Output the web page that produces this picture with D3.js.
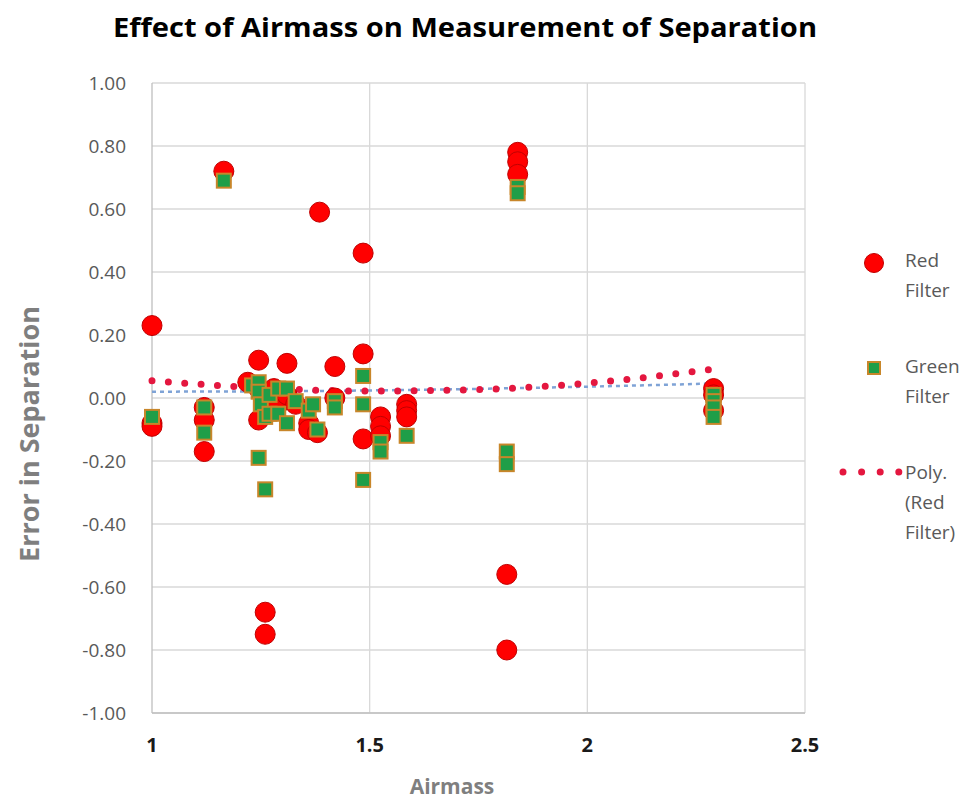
<!DOCTYPE html>
<html><head><meta charset="utf-8">
<script src="https://cdn.jsdelivr.net/npm/d3@7"></script>
<style>body{margin:0;background:#fff;} svg{display:block;}</style>
</head><body>
<svg id="chart" width="980" height="803"></svg>
<script>
const title = "Effect of Airmass on Measurement of Separation";
const xTitle = "Airmass";
const yTitle = "Error in Separation";
const xTicks = [1, 1.5, 2, 2.5];
const xTickLabels = ["1", "1.5", "2", "2.5"];
const yTicks = [1, 0.8, 0.6, 0.4, 0.2, 0, -0.2, -0.4, -0.6, -0.8, -1];
const yTickLabels = ["1.00","0.80","0.60","0.40","0.20","0.00","-0.20","-0.40","-0.60","-0.80","-1.00"];

const redAirmass = [1.00,1.00,1.00, 1.12,1.12,1.12, 1.165, 1.22, 1.245,1.245,1.245, 1.26,1.26,1.26, 1.28, 1.29, 1.31,1.31, 1.33, 1.36,1.36, 1.385, 1.38, 1.42,1.42, 1.485,1.485,1.485, 1.525,1.525,1.525, 1.585,1.585,1.585, 1.815,1.815, 1.84,1.84,1.84, 2.29,2.29,2.29];
const redError   = [0.23,-0.08,-0.09, -0.03,-0.07,-0.17, 0.72, 0.05, 0.12,0.03,-0.07, -0.68,-0.75,0.01, 0.03, -0.02, 0.11,0.01, -0.02, -0.08,-0.10, 0.59, -0.11, 0.10,0.00, 0.46,0.14,-0.13, -0.06,-0.09,-0.12, -0.02,-0.04,-0.06, -0.56,-0.80, 0.78,0.75,0.71, 0.03,0.01,-0.04];

const greenAirmass = [1.00, 1.12,1.12, 1.165, 1.23, 1.245,1.245,1.245, 1.25, 1.26,1.26, 1.27,1.27, 1.29,1.29, 1.31,1.31, 1.33, 1.36, 1.37, 1.38, 1.42,1.42, 1.485,1.485,1.485, 1.525,1.525, 1.585, 1.815,1.815, 1.84,1.84, 2.29,2.29,2.29,2.29];
const greenError   = [-0.06, -0.03,-0.11, 0.69, 0.04, 0.05,0.02,-0.19, -0.02, -0.06,-0.29, 0.01,-0.05, 0.03,-0.05, 0.03,-0.08, -0.01, -0.04, -0.02, -0.10, -0.01,-0.03, 0.07,-0.02,-0.26, -0.14,-0.17, -0.12, -0.17,-0.21, 0.67,0.65, 0.01,-0.01,-0.03,-0.06];

// trendlines
const redTrendX = [1.0, 1.25, 1.5, 1.75, 2.0, 2.29];
const redTrendY = [0.055, 0.032, 0.022, 0.027, 0.047, 0.092];
const greenTrendX = [1.0, 1.5, 2.0, 2.29];
const greenTrendY = [0.02, 0.024, 0.036, 0.046];

const legendLabels = [["Red","Filter"],["Green","Filter"],["Poly.","(Red","Filter)"]];

const svg = d3.select("#chart");
const x = d3.scaleLinear().domain([1, 2.5]).range([152, 805]);
const y = d3.scaleLinear().domain([-1, 1]).range([713, 83]);

// gridlines
svg.append("g").selectAll("line").data(yTicks).join("line")
  .attr("x1", x(1)).attr("x2", x(2.5)).attr("y1", d => y(d)).attr("y2", d => y(d))
  .attr("stroke", "#d9d9d9").attr("stroke-width", 1.3);
svg.append("g").selectAll("line").data(xTicks).join("line")
  .attr("x1", d => x(d)).attr("x2", d => x(d)).attr("y1", y(1)).attr("y2", y(-1))
  .attr("stroke", d => d === 1 ? "#bfbfbf" : "#d9d9d9").attr("stroke-width", 1.3);
svg.append("line").attr("x1", x(1)).attr("x2", x(2.5)).attr("y1", y(-1)).attr("y2", y(-1))
  .attr("stroke", "#bfbfbf").attr("stroke-width", 1.3);

// y tick labels
svg.append("g").selectAll("text").data(yTicks).join("text")
  .attr("x", 126).attr("y", d => y(d)).attr("dy", "0.35em")
  .attr("text-anchor", "end").attr("fill", "#595959")
  .style("font", "19px 'Open Sans', sans-serif")
  .text((d, i) => yTickLabels[i]);
// x tick labels
svg.append("g").selectAll("text").data(xTicks).join("text")
  .attr("x", d => x(d)).attr("y", 752)
  .attr("text-anchor", "middle").attr("fill", "#1a1a1a")
  .style("font", "bold 20px 'Open Sans', sans-serif")
  .text((d, i) => xTickLabels[i]);

// titles
svg.append("text").attr("x", 465).attr("y", 37).attr("text-anchor", "middle")
  .attr("textLength", 704).attr("lengthAdjust", "spacingAndGlyphs")
  .attr("fill", "#000").style("font", "bold 27px 'Open Sans', sans-serif").text(title);
svg.append("text").attr("x", 452).attr("y", 794).attr("text-anchor", "middle")
  .attr("fill", "#7f7f7f").style("font", "bold 21px 'Open Sans', sans-serif").text(xTitle);
svg.append("text").attr("transform", "translate(39,434) rotate(-90)").attr("text-anchor", "middle")
  .attr("fill", "#7f7f7f").style("font", "bold 27px 'Open Sans', sans-serif").text(yTitle);

// trendlines
const line = d3.line().x(d => x(d[0])).y(d => y(d[1])).curve(d3.curveMonotoneX);
svg.append("path").datum(greenTrendX.map((v, i) => [v, greenTrendY[i]]))
  .attr("d", line).attr("fill", "none").attr("stroke", "#7fa3d6")
  .attr("stroke-width", 2.5).attr("stroke-dasharray", "4,4");
svg.append("path").datum(redTrendX.map((v, i) => [v, redTrendY[i]]))
  .attr("d", line).attr("fill", "none").attr("stroke", "#e4173f")
  .attr("stroke-width", 7).attr("stroke-linecap", "round").attr("stroke-dasharray", "0,16.4");

// red points
svg.append("g").selectAll("circle").data(redAirmass.map((v, i) => [v, redError[i]])).join("circle")
  .attr("cx", d => x(d[0])).attr("cy", d => y(d[1])).attr("r", 10)
  .attr("fill", "#ff0000").attr("stroke", "#c00000").attr("stroke-width", 1);
// green points
const s = 14;
svg.append("g").selectAll("rect").data(greenAirmass.map((v, i) => [v, greenError[i]])).join("rect")
  .attr("x", d => x(d[0]) - s / 2).attr("y", d => y(d[1]) - s / 2).attr("width", s).attr("height", s)
  .attr("fill", "#1f9e48").attr("stroke", "#c8862a").attr("stroke-width", 2);

// legend
const lg = svg.append("g");
const lf = "19px 'Open Sans', sans-serif";
lg.append("circle").attr("cx", 874).attr("cy", 263).attr("r", 9.5)
  .attr("fill", "#ff0000").attr("stroke", "#c00000");
lg.append("rect").attr("x", 874 - 6).attr("y", 368 - 6).attr("width", 12).attr("height", 12)
  .attr("fill", "#1f9e48").attr("stroke", "#c8862a").attr("stroke-width", 2);
lg.append("line").attr("x1", 843).attr("x2", 899).attr("y1", 472).attr("y2", 472)
  .attr("stroke", "#e4173f").attr("stroke-width", 7).attr("stroke-linecap", "round").attr("stroke-dasharray", "0,18.6");
const legendY = [260, 366, 472];
legendLabels.forEach((lines, k) => {
  lines.forEach((t, j) => {
    lg.append("text").attr("x", 905).attr("y", legendY[k] + j * 30).attr("dy", "0.35em")
      .attr("fill", "#595959").style("font", lf).text(t);
  });
});
</script>
</body></html>
